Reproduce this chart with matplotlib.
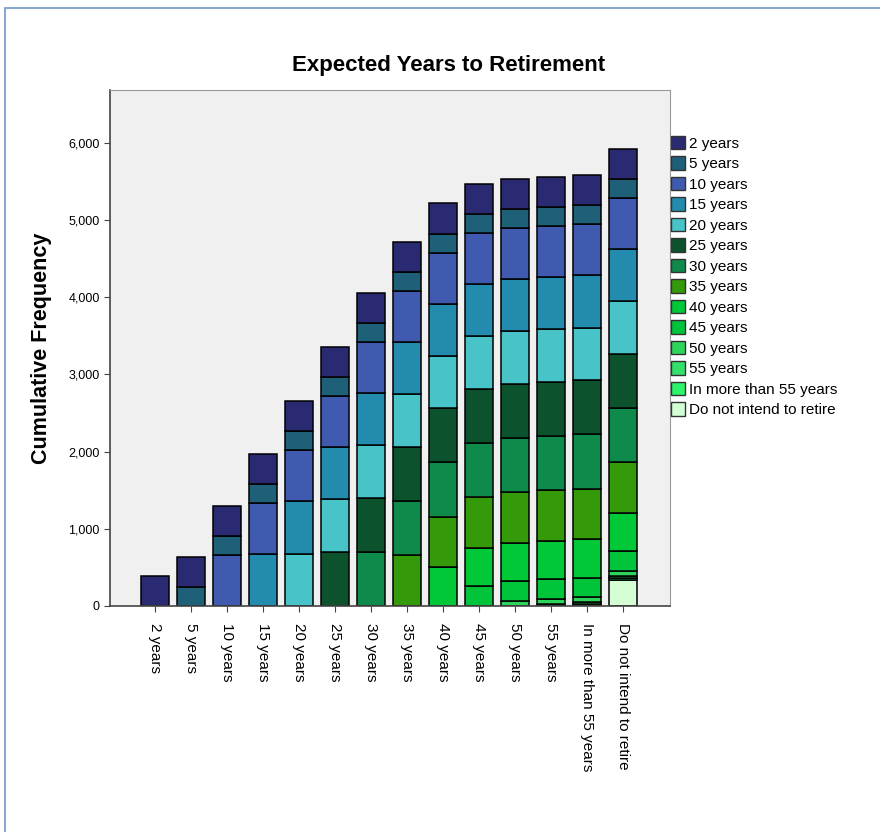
import numpy as np
import matplotlib
matplotlib.use("Agg")
import matplotlib.pyplot as plt
from matplotlib.patches import Rectangle, Patch

plt.rcParams['font.family'] = ['Liberation Sans', 'DejaVu Sans']

# categories and counts
cats = ['2 years', '5 years', '10 years', '15 years', '20 years', '25 years',
        '30 years', '35 years', '40 years', '45 years', '50 years', '55 years',
        'In more than 55 years', 'Do not intend to retire']
counts = [390, 250, 660, 675, 680, 700, 705, 655, 500, 255, 65, 25, 22, 340]
colors = ['#2a2a72', '#1f6079', '#3f5aae', '#238bae', '#48c3c8', '#0b522d',
          '#0e8a4a', '#359a0a', '#00c837', '#00c43a', '#2dd55b', '#32e06a',
          '#2cf56a', '#d4ffd4']

fig = plt.figure(figsize=(8.8, 8.32), dpi=100)
W, H = 880, 832

# outer viewer frame
fig.patches.append(Rectangle((5 / W, -0.1), 2, (832 - 8) / H + 0.1, transform=fig.transFigure,
                             fill=False, edgecolor='#6f95c8', linewidth=1.2))

ax = fig.add_axes([110 / W, 1 - 606 / H, 560 / W, 516 / H])
ax.set_facecolor('#f0f0f0')

x = np.arange(len(cats))
# each bar i is cumulative: segment of category i at bottom, 2 years on top
for i in x:
    bottom = 0
    for j in range(i, -1, -1):
        ax.bar(i, counts[j], bottom=bottom, width=0.78, color=colors[j],
               edgecolor='black', linewidth=1.1)
        bottom += counts[j]

ax.set_xlim(-1.25, 14.3)
ax.set_ylim(0, 6684)
ax.set_yticks([0, 1000, 2000, 3000, 4000, 5000, 6000])
ax.set_yticklabels(['0', '1,000', '2,000', '3,000', '4,000', '5,000', '6,000'], fontsize=9)
ax.set_xticks(x)
ax.set_xticklabels(cats, rotation=270, fontsize=11, va='top', ha='center')
ax.tick_params(axis='both', direction='out', length=4, color='#444444')
ax.tick_params(axis='x', pad=8)
for s in ['top', 'right']:
    ax.spines[s].set_color('#999999')
    ax.spines[s].set_linewidth(0.8)
for s in ['left', 'bottom']:
    ax.spines[s].set_color('#444444')
    ax.spines[s].set_linewidth(1.2)

ax.set_ylabel('Cumulative Frequency', fontsize=15.5, fontweight='bold', labelpad=12)
fig.text(449 / W, 1 - 65 / H, 'Expected Years to Retirement', ha='center', va='center',
         fontsize=16, fontweight='bold')

handles = [Patch(facecolor=c, edgecolor='#333333', label=l) for c, l in zip(colors, cats)]
fig.legend(handles=handles, loc='upper left', bbox_to_anchor=(671 / W, 1 - 136 / H),
           frameon=False, fontsize=11, handlelength=0.9, handleheight=0.95,
           handletextpad=0.3, labelspacing=0.37, borderaxespad=0, borderpad=0)

fig.savefig('out.png', dpi=100, facecolor='white')
